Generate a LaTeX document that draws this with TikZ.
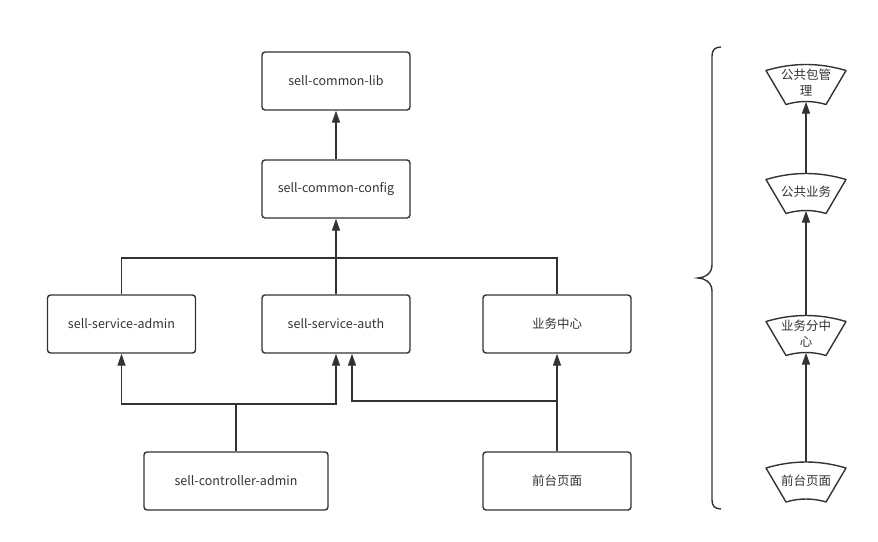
\documentclass[tikz,border=0pt]{standalone}
\usepackage{fontspec}
\setmainfont{Noto Sans CJK SC}
\usetikzlibrary{arrows.meta}
\definecolor{ink}{HTML}{333333}

\begin{document}
\begin{tikzpicture}[x=1pt,y=-1pt,
  box/.style={draw=ink,line width=1.4pt,rounded corners=3pt,minimum width=148pt,minimum height=58pt,inner sep=0pt,text=ink,font=\fontsize{12.5}{16}\selectfont},
  fan/.style={minimum width=80pt,minimum height=37pt,inner sep=0pt,align=center,text=ink,font=\fontsize{12.5}{16}\selectfont},
  link/.style={draw=ink,line width=1.4pt},
  arr/.style={link,-{Triangle[length=12pt,width=8pt]}}]
  \useasboundingbox (0,0) rectangle (878,541);
  % module boxes
  \node[box] (lib) at (336,81) {sell-common-lib};
  \node[box] (cfg) at (336,189) {sell-common-config};
  \node[box] (adm) at (121.5,324) {sell-service-admin};
  \node[box] (auth) at (336,324) {sell-service-auth};
  \node[box] (yw) at (557,324) {业务中心};
  \node[box,minimum width=184pt] (ctl) at (236,481) {sell-controller-admin};
  \node[box] (qt) at (557,481) {前台页面};
  % buses
  \coordinate (busA) at (336,258);
  \coordinate (busB) at (236,404);
  \coordinate (busC) at (557,401);
  \draw[arr] (cfg) -- (lib);
  \draw[arr] (auth) -- (cfg);
  \draw[link] (adm.north) |- (busA) -| (yw.north);
  \draw[link] (ctl.north) -- (busB);
  \draw[arr] (busB) -| (adm.south);
  \draw[arr] (busB) -| (auth.south);
  \draw[arr] (qt) -- (yw);
  \draw[arr] (busC) -| ([xshift=16pt]auth.south);
  % layers on the right
  \node[fan] (fa) at (806,83) {公共包管\\理};
  \node[fan] (fb) at (806,192) {公共业务};
  \node[fan] (fc) at (806,334) {业务分中\\心};
  \node[fan] (fd) at (806,480.5) {前台页面};
  \foreach \n in {fa,fb,fc,fd}
    \draw[link,line join=round,shift={(\n.center)}] (-40,-12.5) .. controls (-13,-20.5) and (13,-20.5) .. (40,-12.5)
      -- (20,21.5) .. controls (7,17.5) and (-7,17.5) .. (-20,21.5) -- cycle;
  \draw[arr] (fb) -- (fa);
  \draw[arr] (fc) -- (fb);
  \draw[arr] (fd) -- (fc);
  % brace
  \draw[link] (721,47) .. controls (715,47) and (712,50) .. (712,56) -- (712,265)
    .. controls (712,274) and (704,278) .. (698,278)
    .. controls (704,278) and (712,282) .. (712,291) -- (712,500)
    .. controls (712,506) and (715,509) .. (721,509);
\end{tikzpicture}
\end{document}
